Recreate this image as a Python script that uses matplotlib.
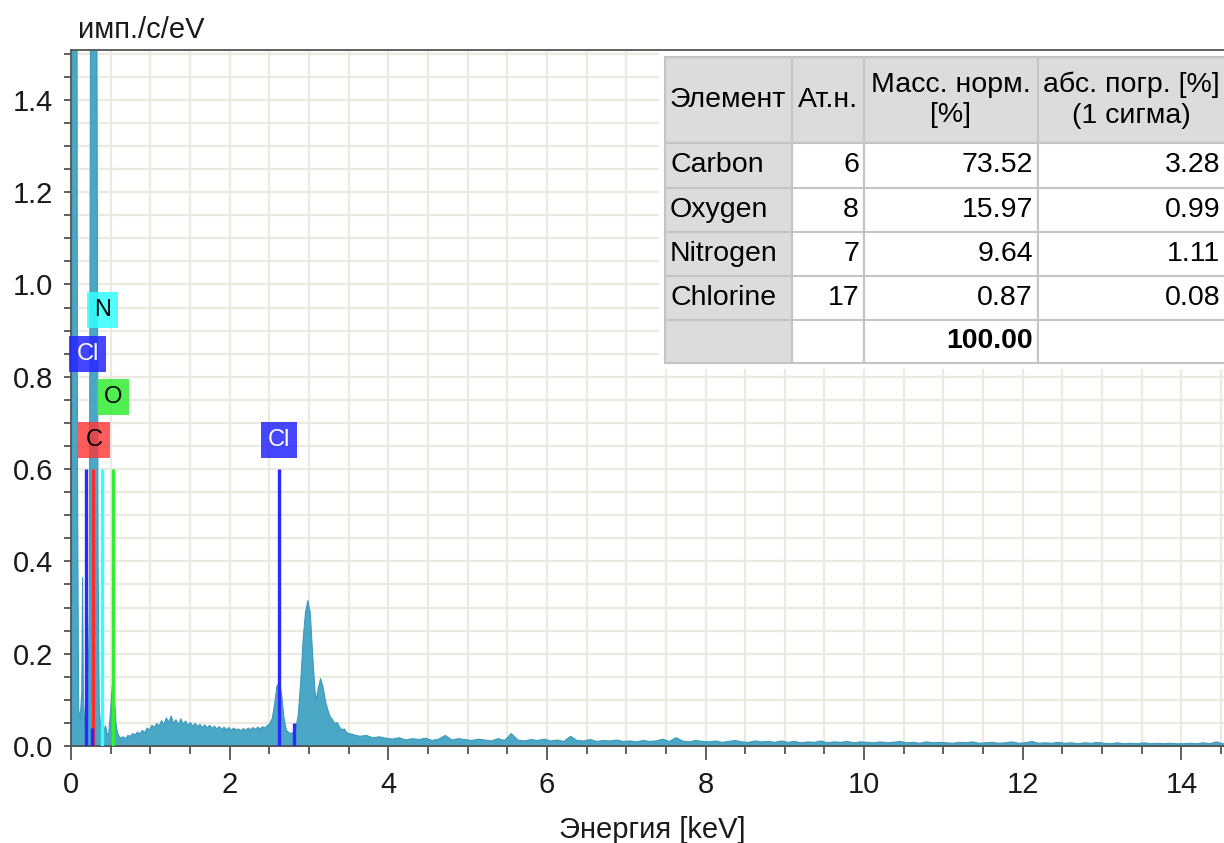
import numpy as np
import matplotlib
matplotlib.use('Agg')
import matplotlib.pyplot as plt
from matplotlib.patches import Rectangle
from matplotlib.ticker import MultipleLocator, FormatStrFormatter

plt.rcParams['font.family'] = ['Liberation Sans', 'DejaVu Sans']

# --- spectrum (keV, imp/s/eV) ---
e_low = [0.0, 0.005, 0.01, 0.07, 0.075, 0.09, 0.11, 0.13, 0.14, 0.15, 0.17, 0.2,
         0.225, 0.24, 0.32, 0.335, 0.35, 0.37, 0.40, 0.42, 0.43, 0.45, 0.47, 0.49,
         0.51, 0.525, 0.54, 0.56, 0.58, 0.60]
c_low = [0.0, 0.8, 1.6, 1.6, 0.6, 0.08, 0.06, 0.12, 0.366, 0.1, 0.04, 0.03,
         0.3, 1.6, 1.6, 0.4, 0.08, 0.04, 0.03, 0.04, 0.045, 0.025, 0.03, 0.07,
         0.12, 0.15, 0.11, 0.05, 0.03, 0.022]

# background 0.62 - 2.50 keV
c_bg1 = [0.018, 0.021, 0.017, 0.024, 0.022, 0.028, 0.025, 0.031, 0.027, 0.035,
         0.03, 0.04, 0.036, 0.046, 0.041, 0.05, 0.044, 0.056, 0.048, 0.062,
         0.052, 0.066, 0.05, 0.058, 0.047, 0.06, 0.049, 0.055, 0.046, 0.052,
         0.044, 0.05, 0.043, 0.048, 0.041, 0.047, 0.04, 0.046, 0.039, 0.044,
         0.038, 0.043, 0.037, 0.042, 0.036, 0.041, 0.035, 0.04, 0.036, 0.038,
         0.034, 0.039, 0.035, 0.04, 0.036, 0.041, 0.037, 0.042, 0.038, 0.043,
         0.04, 0.045, 0.05]

e_cl = [2.53, 2.56, 2.59, 2.62, 2.65, 2.68, 2.71, 2.74, 2.77, 2.80, 2.83, 2.86,
        2.89, 2.92, 2.95, 2.98, 3.01, 3.04, 3.07, 3.09, 3.11, 3.14, 3.17, 3.20,
        3.23, 3.26, 3.29, 3.32, 3.35, 3.38, 3.41, 3.44, 3.47, 3.50]
c_cl = [0.06, 0.09, 0.13, 0.14, 0.11, 0.06, 0.035, 0.03, 0.028, 0.032, 0.04, 0.07,
        0.14, 0.23, 0.29, 0.316, 0.29, 0.2, 0.12, 0.1, 0.125, 0.147, 0.13, 0.1,
        0.08, 0.065, 0.058, 0.05, 0.052, 0.042, 0.036, 0.038, 0.03, 0.028]

# tail 3.55 - 14.6 keV
c_tail = [0.026, 0.022, 0.024, 0.019, 0.021, 0.018,
          0.016, 0.019, 0.014, 0.017, 0.015, 0.018, 0.013, 0.016, 0.024, 0.014, 0.017, 0.015,
          0.013, 0.016, 0.014, 0.012, 0.017, 0.013, 0.028, 0.014, 0.012, 0.015, 0.013, 0.016,
          0.012, 0.014, 0.011, 0.022, 0.013, 0.012, 0.015, 0.011, 0.013, 0.012, 0.014, 0.011,
          0.012, 0.01, 0.013, 0.011, 0.012, 0.016, 0.011, 0.019, 0.012, 0.01, 0.013, 0.011,
          0.01, 0.012, 0.009, 0.011, 0.013, 0.01, 0.009, 0.012, 0.01, 0.011, 0.009, 0.012,
          0.009, 0.011, 0.008, 0.01, 0.009, 0.012, 0.008, 0.01, 0.009, 0.011, 0.008, 0.01,
          0.009, 0.008, 0.01, 0.008, 0.009, 0.011, 0.008, 0.009, 0.007, 0.01, 0.008, 0.009,
          0.008, 0.007, 0.009, 0.008, 0.01, 0.007, 0.008, 0.009, 0.007, 0.008, 0.01, 0.007,
          0.008, 0.011, 0.007, 0.008, 0.007, 0.009, 0.007, 0.008, 0.006, 0.008, 0.007, 0.009,
          0.007, 0.006, 0.008, 0.006, 0.007, 0.006, 0.008, 0.006, 0.007, 0.006, 0.007, 0.006,
          0.006, 0.007, 0.006, 0.008, 0.006, 0.01, 0.006, 0.007]

# element lines
line_el = ['Cl', 'C', 'N', 'O', 'Cl']
line_e = [0.185, 0.277, 0.392, 0.525, 2.622]
line_col = ['#2a2aff', '#ff2a2a', '#33ffff', '#33ee33', '#2a2aff']
minor_e = [0.265, 2.815]
minor_h = [0.04, 0.05]

# table
t_head = ['Элемент', 'Ат.н.', 'Масс. норм.\n[%]', 'абс. погр. [%]\n(1 сигма)']
t_elem = ['Carbon', 'Oxygen', 'Nitrogen', 'Chlorine']
t_z = ['6', '8', '7', '17']
t_mass = ['73.52', '15.97', '9.64', '0.87']
t_err = ['3.28', '0.99', '1.11', '0.08']
t_total = '100.00'

energy = np.concatenate([e_low, np.linspace(0.62, 2.50, len(c_bg1)), e_cl,
                         np.linspace(3.55, 14.6, len(c_tail))])
counts = np.concatenate([c_low, c_bg1, c_cl, c_tail])

fig = plt.figure(figsize=(12.24, 8.43), dpi=100)
ax = fig.add_axes([71/1224, 97/843, 1158/1224, 696/843])

ax.fill_between(energy, counts, 0, color='#4ba7c6', lw=0.8, edgecolor='#3d9aba', zorder=2)

for e, c in zip(line_e, line_col):
    ax.vlines(e, 0, 0.6, color=c, lw=2.4, zorder=3)
ax.vlines(minor_e, 0, minor_h, color='#2a2aff', lw=2.4, zorder=3)

lab_pos = [(0.21, 0.85), (0.29, 0.663), (0.40, 0.945), (0.53, 0.756), (2.62, 0.663)]
lab_fc = [(0.15, 0.15, 1, 0.85), (1, 0.2, 0.2, 0.8), (0.2, 1, 1, 0.85),
          (0.2, 0.93, 0.2, 0.85), (0.15, 0.15, 1, 0.85)]
lab_tc = ['white', 'black', 'black', 'black', 'white']
for name, (x, y), fc, tc in zip(line_el, lab_pos, lab_fc, lab_tc):
    ax.text(x, y, name, fontsize=17, color=tc, ha='center', va='center', zorder=4,
            bbox=dict(boxstyle='square,pad=0.3', fc=fc, ec='none'))

ax.set_xlim(0, 14.6)
ax.set_ylim(0, 1.508)
ax.xaxis.set_major_locator(MultipleLocator(2))
ax.xaxis.set_minor_locator(MultipleLocator(0.5))
ax.yaxis.set_major_locator(MultipleLocator(0.2))
ax.yaxis.set_minor_locator(MultipleLocator(0.05))
ax.yaxis.set_major_formatter(FormatStrFormatter('%.1f'))
ax.grid(which='both', color='#ece9e1', lw=1.6, zorder=0)
ax.set_axisbelow(True)
ax.tick_params(axis='both', which='both', colors='#444444', labelcolor='#1a1a1a', labelsize=21)
ax.tick_params(axis='y', which='both', length=5, width=1.2, pad=8)
ax.tick_params(axis='x', which='major', length=10, width=1.2, pad=8)
ax.tick_params(axis='x', which='minor', length=6, width=1.2)
for s in ax.spines.values():
    s.set_color('#555555')
    s.set_linewidth(1.3)

fig.text(78/1224, 1 - 30/843, 'имп./c/eV', fontsize=21, va='center', ha='left', color='#1a1a1a')
fig.text(652/1224, 1 - 830/843, 'Энергия [keV]', fontsize=21, va='center', ha='center', color='#1a1a1a')

# table drawn in figure pixels
tax = fig.add_axes([0, 0, 1, 1], zorder=5)
tax.set_xlim(0, 1224)
tax.set_ylim(843, 0)
tax.axis('off')
cols = [665, 792, 864, 1038, 1230]
rows = [57, 143, 188, 232, 276, 320, 363]
tax.add_patch(Rectangle((659, 51), 600, 318, fc='white', ec='none'))
for i in range(len(rows) - 1):
    for j in range(len(cols) - 1):
        gray = i == 0 or j == 0
        tax.add_patch(Rectangle((cols[j], rows[i]), cols[j + 1] - cols[j], rows[i + 1] - rows[i],
                                fc='#dcdcdc' if gray else 'white', ec='#c4c4c4', lw=1.5))
ymid = [(rows[i] + rows[i + 1]) / 2 for i in range(len(rows) - 1)]
fs = 20.5
tax.text(670, ymid[0], t_head[0], fontsize=fs, ha='left', va='center')
for j in range(1, 4):
    tax.text((cols[j] + min(cols[j + 1], 1224)) / 2, ymid[0], t_head[j], fontsize=fs,
             ha='center', va='center', linespacing=1.25)
for i in range(len(t_elem)):
    y = ymid[i + 1]
    tax.text(670, y, t_elem[i], fontsize=fs, ha='left', va='center')
    tax.text(cols[2] - 5, y, t_z[i], fontsize=fs, ha='right', va='center')
    tax.text(cols[3] - 5, y, t_mass[i], fontsize=fs, ha='right', va='center')
    tax.text(1220, y, t_err[i], fontsize=fs, ha='right', va='center')
tax.text(cols[3] - 5, ymid[5], t_total, fontsize=fs, ha='right', va='center', fontweight='bold')

fig.savefig('out.png', dpi=100)
